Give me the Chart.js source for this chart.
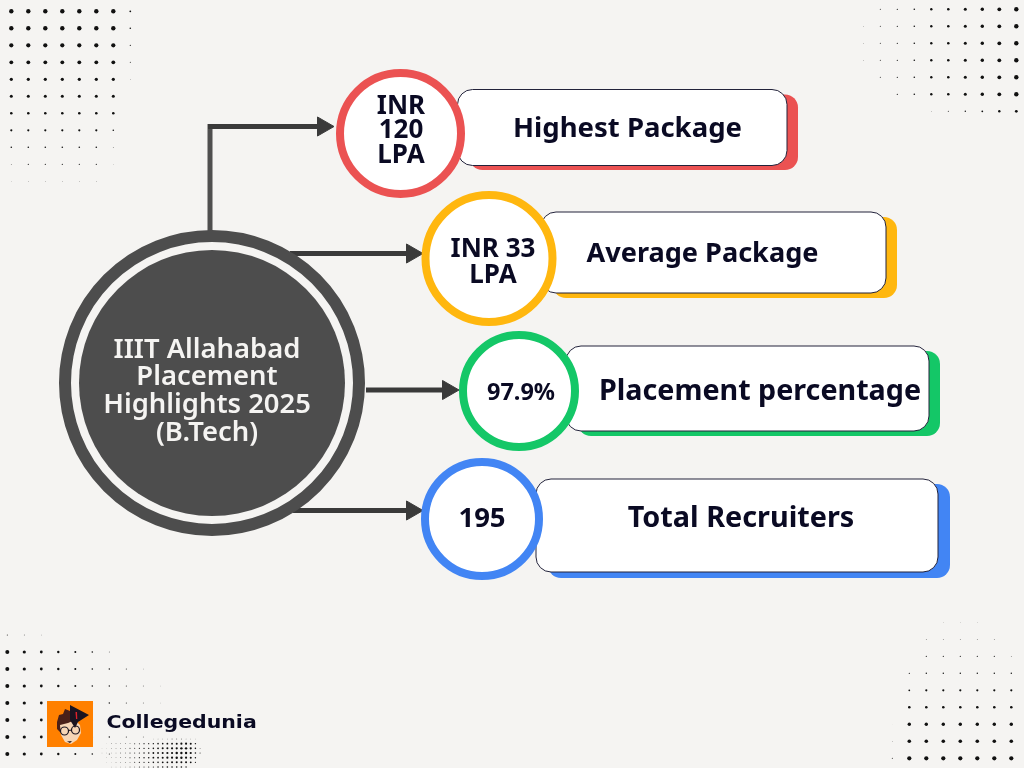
<!DOCTYPE html>
<html>
<head>
<meta charset="utf-8">
<title>IIIT Allahabad Placement Highlights 2025</title>
<script src="https://cdn.jsdelivr.net/npm/chart.js@4"></script>
<style>
  html, body { margin: 0; padding: 0; background: #f5f4f2; }
  canvas { display: block; }
</style>
</head>
<body>
<canvas id="chart" width="1024" height="768"></canvas>
<script>
// chart content
const hubLines = ["IIIT Allahabad", "Placement", "Highlights 2025", "(B.Tech)"];
const metricNames = ["Highest Package", "Average Package", "Placement percentage", "Total Recruiters"];
const metricValues = [["INR", "120", "LPA"], ["INR 33", "LPA"], ["97.9%"], ["195"]];
const brandName = "Collegedunia";

// layout, one entry per metric
const colors = ["#eb5252", "#ffb70f", "#14c767", "#4285f4"];
const ringX = [400.5, 489, 519, 482];
const ringY = [133.5, 258.5, 391, 519];
const ringR = [60.5, 63.5, 56, 57];
const valueY = [[107, 131, 156], [250, 276], [393], [519]];
const valueX = [401, 493, 521, 482];
const valueSize = [26, 26, 23.5, 27.5];
const cardL = [457.5, 541, 566, 536];
const cardR = [787, 886, 929, 938];
const cardT = [89.5, 212, 346, 479];
const cardB = [165.5, 293, 431, 572];
const shadowR = [798, 897, 940, 950];
const shadowB = [170, 298, 436, 578];
const labelX = [627.5, 702.5, 760, 741];
const labelY = [129, 254, 392, 519];
const labelSize = [27.5, 27.1, 28.7, 28.8];
const arrowY = [126.5, 253.5, 390, 510.5];
const arrowFrom = [208, 290, 366, 293];
const arrowTip = [334, 423, 459, 423];

// dot radii of the background patches, read row by row
const dotsTopLeft = [
  [2.2, 2.2, 2.2, 2.2, 2.2, 2.2, 2.2, 0.9],
  [2.2, 2.2, 2.2, 2.2, 2.2, 2.2, 2.2, 0.8],
  [2.1, 2.1, 2.1, 2.1, 2.1, 2.1, 2.1, 0.6],
  [1.9, 1.9, 1.9, 1.9, 1.9, 1.9, 1.9, 0.5],
  [1.6, 1.6, 1.6, 1.6, 1.6, 1.6, 1.6, 0.3],
  [1.5, 1.5, 1.5, 1.5, 1.5, 1.5, 1.5],
  [1.3, 1.3, 1.3, 1.3, 1.3, 1.3, 1.3],
  [1.1, 1.1, 1.1, 1.1, 1.1, 1.1, 0.8],
  [0.8, 0.8, 0.8, 0.8, 0.8, 0.8, 0.4],
  [0.4, 0.6, 0.6, 0.6, 0.6, 0.6, 0.2],
  [0.2, 0.3, 0.3, 0.3, 0.3, 0.3]
];
const dotsTopRight = [
  [0, 0.5, 0.6, 0.8, 1.2, 1.3, 1.5, 1.7, 1.9, 2.2],
  [0.3, 0.5, 0.6, 0.8, 1.2, 1.3, 1.5, 1.7, 1.9, 2.2],
  [0.3, 0.5, 0.6, 0.8, 1.2, 1.3, 1.5, 1.7, 1.9, 2.2],
  [0.3, 0.5, 0.6, 0.8, 1.2, 1.3, 1.5, 1.7, 1.9, 2.2],
  [0, 0.5, 0.6, 0.8, 1.2, 1.3, 1.5, 1.7, 1.9, 2.2],
  [0, 0, 0.6, 0.8, 1.2, 1.3, 1.5, 1.7, 1.9, 2.2],
  [0, 0, 0, 0, 0.3, 0.5, 0.7, 0.9, 1.2, 1.4]
];
const dotsBottomRight = [
  [0, 0, 0, 0.2, 0.2, 0.2],
  [0, 0, 0.4, 0.4, 0.4, 0.4, 0.4],
  [0, 0, 0.6, 0.6, 0.6, 0.6, 0.6, 0.4],
  [0, 0.6, 0.7, 0.7, 0.7, 0.7, 0.7, 0.7],
  [0, 0.9, 1.1, 1.1, 1.1, 1.1, 1.1, 1.1],
  [0, 1.3, 1.3, 1.3, 1.3, 1.3, 1.3, 1.3],
  [0.1, 1.7, 1.7, 1.7, 1.7, 1.7, 1.7, 1.7],
  [0.3, 1.8, 1.8, 1.8, 1.8, 1.8, 1.8, 1.8],
  [0.5, 2.1, 2.1, 2.1, 2.1, 2.1, 2.1, 2.1]
];
const dotsBottomLeft = [
  [0.5, 0.4, 0.3],
  [2, 1.6, 1.4, 1.2, 1, 0.8, 0.4],
  [2, 1.6, 1.4, 1.2, 1, 0.8, 0.7, 0.5, 0.3],
  [2, 1.6, 1.4, 1.2, 1, 0.8, 0.7, 0.5, 0.4, 0.2],
  [2, 1.6, 1.4, 1.2, 1, 0.8, 0.7, 0.5, 0.4, 0.2],
  [2, 1.6, 1.4, 1.2, 1, 0.8, 0.7],
  [2, 1.6, 1.4, 1.2, 1, 0.8, 0.7, 0.5, 0.4],
  [2, 1.6, 1.4, 1.2, 1, 0.8, 0.5]
];
const dotsHalftone = [
  [0, 0, 0, 0, 0, 0, 0, 0, 0, 0, 0, 0.2, 0.3, 0.3, 0.3, 0.4, 0.4, 0.4, 0.3, 0.3, 0.2],
  [0, 0.2, 0.3, 0.3, 0.3, 0.4, 0.4, 0.5, 0.5, 0.6, 0.6, 0.7, 0.8, 0.8, 0.9, 0.9, 1, 1.1, 1.1, 1, 0.7],
  [0.2, 0.2, 0.3, 0.3, 0.4, 0.4, 0.5, 0.5, 0.6, 0.7, 0.7, 0.8, 0.9, 1, 1, 1.1, 1.1, 1.2, 1.2, 1.1, 0.8, 0.4],
  [0.2, 0.2, 0.3, 0.3, 0.4, 0.4, 0.5, 0.5, 0.6, 0.7, 0.8, 0.9, 0.9, 1, 1.1, 1.1, 1.2, 1.2, 1.2, 1.1, 0.8, 0.5],
  [0, 0.2, 0.3, 0.3, 0.4, 0.4, 0.5, 0.5, 0.6, 0.7, 0.8, 0.9, 0.9, 1, 1.1, 1.1, 1.2, 1.2, 1.1, 1, 0.7],
  [0, 0.2, 0.2, 0.3, 0.3, 0.4, 0.4, 0.5, 0.6, 0.6, 0.7, 0.8, 0.8, 0.9, 0.9, 1, 1, 1, 1, 0.9, 0.6],
  [0, 0, 0.2, 0.2, 0.3, 0.3, 0.4, 0.4, 0.5, 0.5, 0.6, 0.6, 0.7, 0.7, 0.8, 0.8, 0.8, 0.8, 0.7]
];

const dark = "#3a3a3a";
const ink = "#0a0a23";
const paper = "#f5f4f2";
const hubFont = '"Noto Sans", sans-serif';

function patch(rows, x0, y0, step) {
  const pts = [];
  const radii = [];
  rows.forEach((row, j) => row.forEach((r, i) => {
    if (r > 0) {
      pts.push({ x: x0 + i * step, y: y0 + j * step });
      radii.push(r);
    }
  }));
  return { pts, radii };
}

function dotDataset(rows, x0, y0, step) {
  const p = patch(rows, x0, y0, step);
  return {
    data: p.pts,
    pointRadius: p.radii,
    pointBackgroundColor: "#111111",
    pointBorderWidth: 0,
    showLine: false
  };
}

function lineDataset(pts, color) {
  return {
    data: pts,
    showLine: true,
    borderColor: color,
    borderWidth: 5,
    pointRadius: 0,
    borderCapStyle: "butt"
  };
}

const datasets = [
  dotDataset(dotsTopLeft, 11.3, 11.3, 17),
  dotDataset(dotsTopRight, 863.3, 9.3, 17),
  dotDataset(dotsBottomRight, 892.3, 622.3, 17),
  dotDataset(dotsBottomLeft, 7.3, 635, 17),
  dotDataset(dotsHalftone, 102, 739, 4.67)
];

// connector from the top of the hub up to the first arrow
datasets.push(lineDataset([{ x: 210, y: 231 }, { x: 210, y: 124 }], "#4f4f4f"));
arrowY.forEach((y, i) => {
  datasets.push(lineDataset([{ x: arrowFrom[i], y: y }, { x: arrowTip[i] - 11, y: y }], dark));
});
// arrow heads
datasets.push({
  data: arrowY.map((y, i) => ({ x: arrowTip[i] - 11, y: y })),
  pointStyle: "triangle",
  rotation: 90,
  pointRadius: 11,
  pointBackgroundColor: dark,
  pointBorderColor: dark,
  pointBorderWidth: 1,
  showLine: false
});
// hub: outer ring and inner disc
datasets.push({
  data: [{ x: 212, y: 383 }],
  pointRadius: 147,
  pointBackgroundColor: paper,
  pointBorderColor: "#4d4d4d",
  pointBorderWidth: 12,
  showLine: false
});
datasets.push({
  data: [{ x: 212, y: 383 }],
  pointRadius: 133,
  pointBackgroundColor: "#4d4d4d",
  pointBorderWidth: 0,
  showLine: false
});
// metric rings
datasets.push({
  data: ringX.map((x, i) => ({ x: x, y: ringY[i] })),
  pointRadius: ringR,
  pointBackgroundColor: "#ffffff",
  pointBorderColor: colors,
  pointBorderWidth: 8,
  showLine: false
});
// chart.js paints the first dataset on top, the list above is bottom to top
datasets.reverse();

function roundRect(ctx, l, t, r, b, rad) {
  ctx.beginPath();
  ctx.roundRect(l, t, r - l, b - t, rad);
}

function drawLogo(ctx, px, py) {
  const P = (x, y) => [px(x), py(y)];
  const poly = (color, pts) => {
    ctx.fillStyle = color;
    ctx.beginPath();
    pts.forEach((p, i) => {
      const q = P(p[0], p[1]);
      if (i === 0) ctx.moveTo(q[0], q[1]); else ctx.lineTo(q[0], q[1]);
    });
    ctx.closePath();
    ctx.fill();
  };
  poly("#ff8000", [[47, 701], [93, 701], [93, 747], [47, 747]]);
  // hair
  poly("#4a2018", [[57, 722], [59, 715], [63, 714], [65, 709], [70, 711], [75, 709], [75, 722], [72, 722], [62, 726], [60, 732], [57, 729]]);
  // face
  poly("#f6d5b5", [[60, 725], [68, 723], [75, 720], [80, 725], [81, 733], [77, 740], [71, 744], [65, 742], [61, 735]]);
  // cap
  poly("#1a1420", [[70, 705], [89, 715], [78, 722], [75, 728], [70, 720]]);
  poly("#e0202a", [[75.5, 712], [77, 712], [77.3, 719], [76, 719]]);
  // glasses
  ctx.strokeStyle = "#1a1420";
  ctx.lineWidth = 1.2;
  ctx.beginPath();
  ctx.arc(px(64.5), py(731), 4, 0, Math.PI * 2);
  ctx.moveTo(px(79.5), py(730));
  ctx.arc(px(75.5), py(730), 4, 0, Math.PI * 2);
  ctx.moveTo(px(68.5), py(730.5));
  ctx.lineTo(px(71.5), py(730));
  ctx.stroke();
  poly("#1a1420", [[67, 741.5], [72, 741], [70, 743]]);
}

const infographic = {
  id: "infographic",
  beforeDatasetsDraw(chart) {
    const ctx = chart.ctx;
    const px = v => chart.scales.x.getPixelForValue(v);
    const py = v => chart.scales.y.getPixelForValue(v);
    ctx.save();
    cardL.forEach((l, i) => {
      ctx.fillStyle = colors[i];
      roundRect(ctx, px(l + 12), py(cardT[i] + 5), px(shadowR[i]), py(shadowB[i]), 13);
      ctx.fill();
      ctx.fillStyle = "#ffffff";
      ctx.strokeStyle = "#22223a";
      ctx.lineWidth = 1;
      roundRect(ctx, px(l), py(cardT[i]), px(cardR[i]), py(cardB[i]), 15);
      ctx.fill();
      ctx.stroke();
    });
    ctx.restore();
  },
  afterDatasetsDraw(chart) {
    const ctx = chart.ctx;
    const px = v => chart.scales.x.getPixelForValue(v);
    const py = v => chart.scales.y.getPixelForValue(v);
    ctx.save();
    ctx.textAlign = "center";
    ctx.textBaseline = "middle";
    ctx.fillStyle = paper;
    ctx.font = "600 27.4px " + hubFont;
    const hubY = [350, 377, 405, 433];
    hubLines.forEach((t, i) => ctx.fillText(t, px(207), py(hubY[i])));
    ctx.fillStyle = ink;
    metricValues.forEach((lines, i) => {
      ctx.font = "700 " + valueSize[i] + "px " + hubFont;
      lines.forEach((t, j) => ctx.fillText(t, px(valueX[i]), py(valueY[i][j])));
    });
    metricNames.forEach((t, i) => {
      ctx.font = "700 " + labelSize[i] + "px " + hubFont;
      ctx.fillText(t, px(labelX[i]), py(labelY[i]));
    });
    drawLogo(ctx, px, py);
    ctx.fillStyle = ink;
    ctx.textAlign = "left";
    ctx.font = '700 17.5px "DejaVu Sans", sans-serif';
    // the wordmark is wider than any installed face, so stretch it sideways
    ctx.translate(px(106.5), py(723.5));
    ctx.scale(1.17, 1);
    ctx.fillText(brandName, 0, 0);
    ctx.restore();
  }
};

new Chart(document.getElementById("chart"), {
  type: "scatter",
  data: { datasets: datasets },
  options: {
    responsive: false,
    animation: false,
    layout: { padding: 0, autoPadding: false },
    plugins: { legend: { display: false }, tooltip: { enabled: false } },
    scales: {
      x: { type: "linear", display: false, min: 0, max: 1024 },
      y: { type: "linear", display: false, min: 0, max: 768, reverse: true }
    }
  },
  plugins: [infographic]
});
</script>
</body>
</html>
